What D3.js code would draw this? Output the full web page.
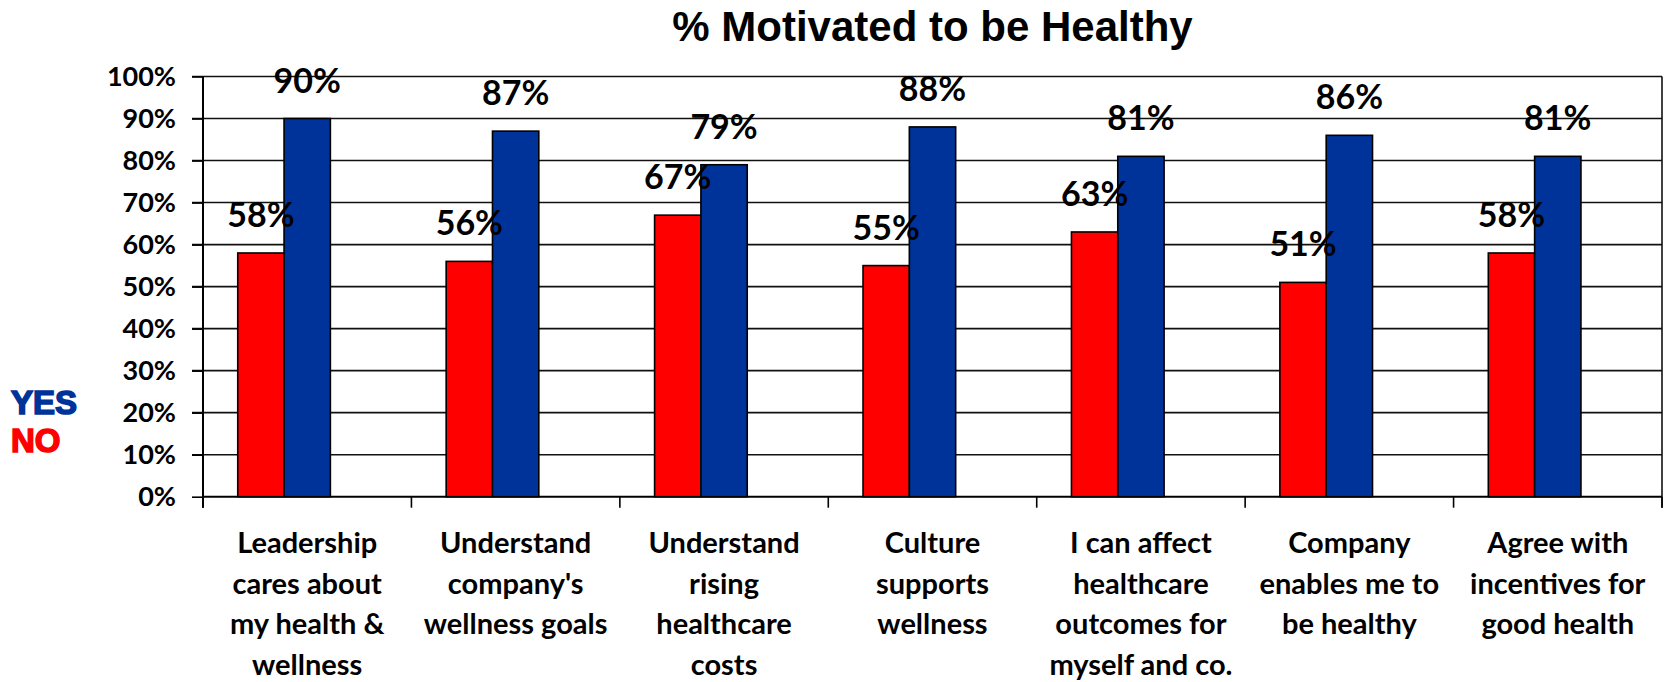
<!DOCTYPE html>
<html>
<head>
<meta charset="utf-8">
<script src="https://cdn.jsdelivr.net/npm/d3@7"></script>
<style>
  html, body { margin: 0; padding: 0; background: #fff; }
  svg { display: block; }
</style>
</head>
<body>
<svg id="chart" width="1668" height="682"></svg>
<script>
// Survey results: share of respondents motivated to be healthy, by statement
const categories = [
  "Leadership cares about my health & wellness",
  "Understand company's wellness goals",
  "Understand rising healthcare costs",
  "Culture supports wellness",
  "I can affect healthcare outcomes for myself and co.",
  "Company enables me to be healthy",
  "Agree with incentives for good health"
];
const categoryLines = [
  ["Leadership", "cares about", "my health &", "wellness"],
  ["Understand", "company's", "wellness goals"],
  ["Understand", "rising", "healthcare", "costs"],
  ["Culture", "supports", "wellness"],
  ["I can affect", "healthcare", "outcomes for", "myself and co."],
  ["Company", "enables me to", "be healthy"],
  ["Agree with", "incentives for", "good health"]
];
const noValues  = [58, 56, 67, 55, 63, 51, 58];
const yesValues = [90, 87, 79, 88, 81, 86, 81];
const yTicks = [0, 10, 20, 30, 40, 50, 60, 70, 80, 90, 100];

const series = [
  { key: "NO",  values: noValues,  color: "#ff0000" },
  { key: "YES", values: yesValues, color: "#003399" }
];
// each cluster keeps room for three columns; only the first two hold data
const slots = ["NO", "YES", "open"];

const svg = d3.select("#chart");
const plotLeft = 203, plotRight = 1662, plotTop = 76.5, plotBottom = 496.7;

const x0 = d3.scaleBand().domain(categories).range([plotLeft, plotRight]).padding(0);
const x1 = d3.scaleBand().domain(slots).range([0, x0.bandwidth()])
  .paddingInner(0).paddingOuter(0.75);
const y = d3.scaleLinear().domain([0, 100]).range([plotBottom, plotTop]);

// horizontal gridlines across the plot, extending into the tick area
svg.append("g")
  .selectAll("line")
  .data(yTicks.filter(d => d > 0))
  .join("line")
  .attr("x1", plotLeft - 11).attr("x2", plotRight)
  .attr("y1", d => y(d)).attr("y2", d => y(d))
  .attr("stroke", "#111").attr("stroke-width", 1.6);

// right border of the plot
svg.append("line")
  .attr("x1", plotRight).attr("x2", plotRight)
  .attr("y1", plotTop).attr("y2", plotBottom + 11)
  .attr("stroke", "#111").attr("stroke-width", 1.6);

// y axis
const yAxis = d3.axisLeft(y).tickValues(yTicks).tickSize(11).tickPadding(16)
  .tickFormat(d => d + "%");
const gy = svg.append("g").attr("transform", `translate(${plotLeft},0)`).call(yAxis);
gy.select(".domain").remove();
gy.append("line").attr("x1", 0).attr("x2", 0).attr("y1", plotTop).attr("y2", plotBottom + 11)
  .attr("stroke", "#000").attr("stroke-width", 2);
gy.selectAll(".tick line").attr("stroke", "#000").attr("stroke-width", 1.6);
gy.selectAll(".tick text")
  .attr("fill", "#000")
  .style("font-family", "Lato, 'Open Sans', sans-serif")
  .style("font-weight", "700")
  .style("font-size", "27px");

// x axis: ticks at the category boundaries
const boundaries = categories.map(c => x0(c)).concat([plotRight]);
const gx = svg.append("g");
gx.append("line").attr("x1", plotLeft).attr("x2", plotRight)
  .attr("y1", plotBottom).attr("y2", plotBottom)
  .attr("stroke", "#000").attr("stroke-width", 2);
gx.selectAll("line.tick")
  .data(boundaries)
  .join("line")
  .attr("class", "tick")
  .attr("x1", d => d).attr("x2", d => d)
  .attr("y1", plotBottom).attr("y2", plotBottom + 11)
  .attr("stroke", "#000").attr("stroke-width", 1.6);

// category labels, several lines each
const labels = svg.append("g")
  .selectAll("text")
  .data(categories)
  .join("text")
  .attr("text-anchor", "middle")
  .attr("fill", "#000")
  .style("font-family", "Lato, 'Open Sans', sans-serif")
  .style("font-weight", "700")
  .style("font-size", "29px");
labels.each(function (c, i) {
  const cx = x0(c) + x0.bandwidth() / 2;
  d3.select(this).selectAll("tspan")
    .data(categoryLines[i])
    .join("tspan")
    .attr("x", cx)
    .attr("y", (d, j) => 553 + j * 40.7)
    .text(d => d);
});

// clustered columns
const groups = svg.append("g")
  .selectAll("g")
  .data(categories)
  .join("g")
  .attr("transform", c => `translate(${x0(c)},0)`);

groups.selectAll("rect")
  .data((c, i) => series.map(s => ({ key: s.key, value: s.values[i], color: s.color })))
  .join("rect")
  .attr("x", d => x1(d.key))
  .attr("width", x1.bandwidth())
  .attr("y", d => y(d.value))
  .attr("height", d => y(0) - y(d.value))
  .attr("fill", d => d.color)
  .attr("stroke", "#000")
  .attr("stroke-width", 1.6);

// value labels above each column
groups.selectAll("text")
  .data((c, i) => series.map(s => ({ key: s.key, value: s.values[i] })))
  .join("text")
  .attr("x", d => x1(d.key) + x1.bandwidth() / 2)
  .attr("y", d => y(d.value) - 26)
  .attr("text-anchor", "middle")
  .attr("fill", "#000")
  .style("font-family", "Lato, 'Open Sans', sans-serif")
  .style("font-weight", "700")
  .style("font-size", "34px")
  .text(d => d.value + "%");

// title
svg.append("text")
  .attr("x", (plotLeft + plotRight) / 2)
  .attr("y", 41)
  .attr("text-anchor", "middle")
  .attr("fill", "#000")
  .style("font-family", "'Liberation Sans', Arial, sans-serif")
  .style("font-weight", "700")
  .style("font-size", "42px")
  .text("% Motivated to be Healthy");

// legend words at the left
const legend = [
  { text: "YES", color: "#003399", y: 414 },
  { text: "NO",  color: "#ff0000", y: 452 }
];
svg.append("g")
  .selectAll("text")
  .data(legend)
  .join("text")
  .attr("x", 11)
  .attr("y", d => d.y)
  .attr("fill", d => d.color)
  .attr("stroke", d => d.color)
  .attr("stroke-width", 1.6)
  .style("font-family", "'Liberation Sans', Arial, sans-serif")
  .style("font-weight", "700")
  .style("font-size", "33px")
  .text(d => d.text);
</script>
</body>
</html>
